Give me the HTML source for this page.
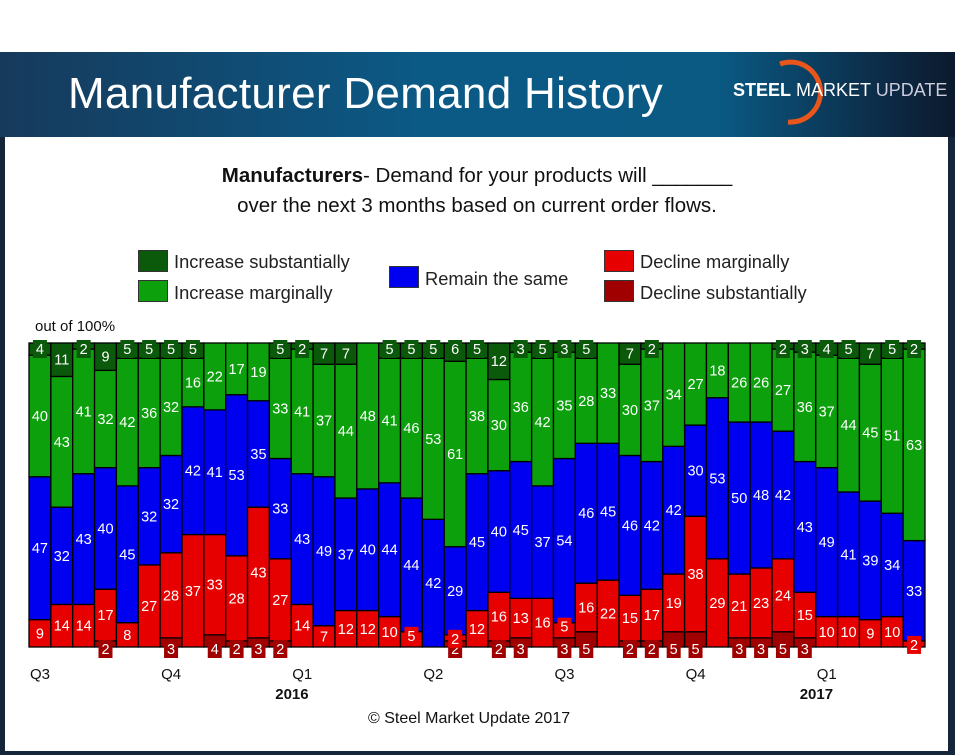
<!DOCTYPE html>
<html><head><meta charset="utf-8">
<style>
body{margin:0;width:955px;height:755px;overflow:hidden;background:#fff;font-family:"Liberation Sans",sans-serif;position:relative}
.abs{position:absolute}
.leg{position:absolute;font-size:18.3px;color:#222;white-space:nowrap}
.sw{position:absolute;width:30px;height:22px;border:1px solid #333;box-sizing:border-box}
</style></head><body>
<div class="abs" style="left:0;top:0;width:955px;height:52px;background:#fff"></div>
<div class="abs" style="left:0;top:52px;width:955px;height:703px;background:linear-gradient(90deg,#163a5c 0%,#0b5a86 45%,#0a5a84 75%,#0c2a45 93%,#0b1a2c 100%)"></div>
<div class="abs" style="left:0;top:137px;width:955px;height:618px;background:#16263a"></div>
<div class="abs" style="left:68px;top:69px;font-size:44px;letter-spacing:0.3px;color:#fff;white-space:nowrap">Manufacturer Demand History</div>
<div class="abs" style="left:730px;top:58px;width:222px;height:70px">
 <svg width="222" height="70" class="abs" style="left:0;top:0"><path d="M50 6 A30 30 0 1 1 58 64" fill="none" stroke="#e8561c" stroke-width="5"/></svg>
 <div class="abs" style="left:3px;top:22px;font-size:18px;color:#fff;white-space:nowrap"><b>STEEL</b> MARKET <span style="color:#ccd">UPDATE</span></div>
</div>
<div class="abs" style="left:5px;top:137px;width:943px;height:614px;background:#fff"></div>
<div class="abs" style="left:130px;top:161px;width:694px;text-align:center;font-size:20.5px;line-height:30px;color:#111"><b>Manufacturers</b>- Demand for your products will _______<br>over the next 3 months based on current order flows.</div>
<div class="sw" style="left:138px;top:250px;background:#0b5a0b"></div>
<div class="leg" style="left:174px;top:251px">Increase substantially</div>
<div class="sw" style="left:138px;top:280px;background:#0ca00c"></div>
<div class="leg" style="left:174px;top:282px">Increase marginally</div>
<div class="sw" style="left:389px;top:266px;background:#0000f0"></div>
<div class="leg" style="left:425px;top:268px">Remain the same</div>
<div class="sw" style="left:604px;top:250px;background:#e60000"></div>
<div class="leg" style="left:640px;top:251px">Decline marginally</div>
<div class="sw" style="left:604px;top:280px;background:#a00000"></div>
<div class="leg" style="left:640px;top:282px">Decline substantially</div>
<div class="abs" style="left:35px;top:318px;font-size:15px;color:#111">out of 100%</div>
<div class="abs" style="left:368px;top:710px;font-size:16px;color:#111">© Steel Market Update 2017</div>
<svg id="chart" class="abs" style="left:0;top:0" width="955" height="755"></svg>
<script>
const incSub=[4,11,2,9,5,5,5,5,0,0,0,5,2,7,7,0,5,5,5,6,5,12,3,5,3,5,0,7,2,0,0,0,0,0,2,3,4,5,7,5,2];
const incMar=[40,43,41,32,42,36,32,16,22,17,19,33,41,37,44,48,41,46,53,61,38,30,36,42,35,28,33,30,37,34,27,18,26,26,27,36,37,44,45,51,63];
const remain=[47,32,43,40,45,32,32,42,41,53,35,33,43,49,37,40,44,44,42,29,45,40,45,37,54,46,45,46,42,42,30,53,50,48,42,43,49,41,39,34,33];
const decMar=[9,14,14,17,8,27,28,37,33,28,43,27,14,7,12,12,10,5,0,2,12,16,13,16,5,16,22,15,17,19,38,29,21,23,24,15,10,10,9,10,2];
const decSub=[0,0,0,2,0,0,3,0,4,2,3,2,0,0,0,0,0,0,0,2,0,2,3,0,3,5,0,2,2,5,5,0,3,3,5,3,0,0,0,0,0];
const qLabels=["Q3","Q4","Q1","Q2","Q3","Q4","Q1"];
const yearLabels=[["2016",2],["2017",6]];
const NS="http://www.w3.org/2000/svg";
const svg=document.getElementById('chart');
const X0=29,X1=925,Y0=647,Y1=343,n=incMar.length,bw=(X1-X0)/n;
const xs=i=>X0+i*bw;
const ys=v=>Y0-(Y0-Y1)*v/100;
function mk(t,a){const e=document.createElementNS(NS,t);for(const k in a)e.setAttribute(k,a[k]);svg.appendChild(e);return e;}
const series=[[decSub,'#a00000','decline-substantially'],[decMar,'#e60000','decline-marginally'],[remain,'#0000f0','remain-same'],[incMar,'#0ca00c','increase-marginally'],[incSub,'#0b5a0b','increase-substantially']];
const labels=[];
for(let i=0;i<n;i++){
  let cum=0;
  series.forEach(([arr,col,nm],si)=>{
    const v=arr[i];if(v<=0)return;
    const yt=ys(cum+v),yb=ys(cum);
    const r=mk('rect',{x:xs(i),y:yt,width:bw,height:yb-yt,fill:col,stroke:'#000','stroke-width':1.3});
    
    
    labels.push([i,si,v,yt,yb,col]);
    cum+=v;
  });
}
labels.forEach(([i,si,v,yt,yb,col])=>{
  const cx=xs(i)+bw/2;let cy=(yt+yb)/2;
  if(yb-yt<20){
    if(si===4) cy=Y1+6;
    else if(si===0) cy=Y0+2;
    else cy=yt+4;
    const b=mk('rect',{x:cx-7,y:cy-9,width:14,height:18,fill:col});
    
    
  }
  const t=mk('text',{x:cx,y:cy+5,'text-anchor':'middle','font-size':14.5,fill:'#fff','font-family':'Liberation Sans, sans-serif'});
  
  
  t.textContent=v;
});
qLabels.forEach((q,k)=>{
  const t=mk('text',{x:xs(k*6)+1,y:679,'font-size':15,fill:'#111','font-family':'Liberation Sans, sans-serif'});
  
  
  t.textContent=q;
});
yearLabels.forEach(([y,k])=>{
  const t=mk('text',{x:xs(k*6)-16,y:699,'font-size':15,'font-weight':'bold',fill:'#111','font-family':'Liberation Sans, sans-serif'});
  
  
  t.textContent=y;
});
</script>
</body></html>
